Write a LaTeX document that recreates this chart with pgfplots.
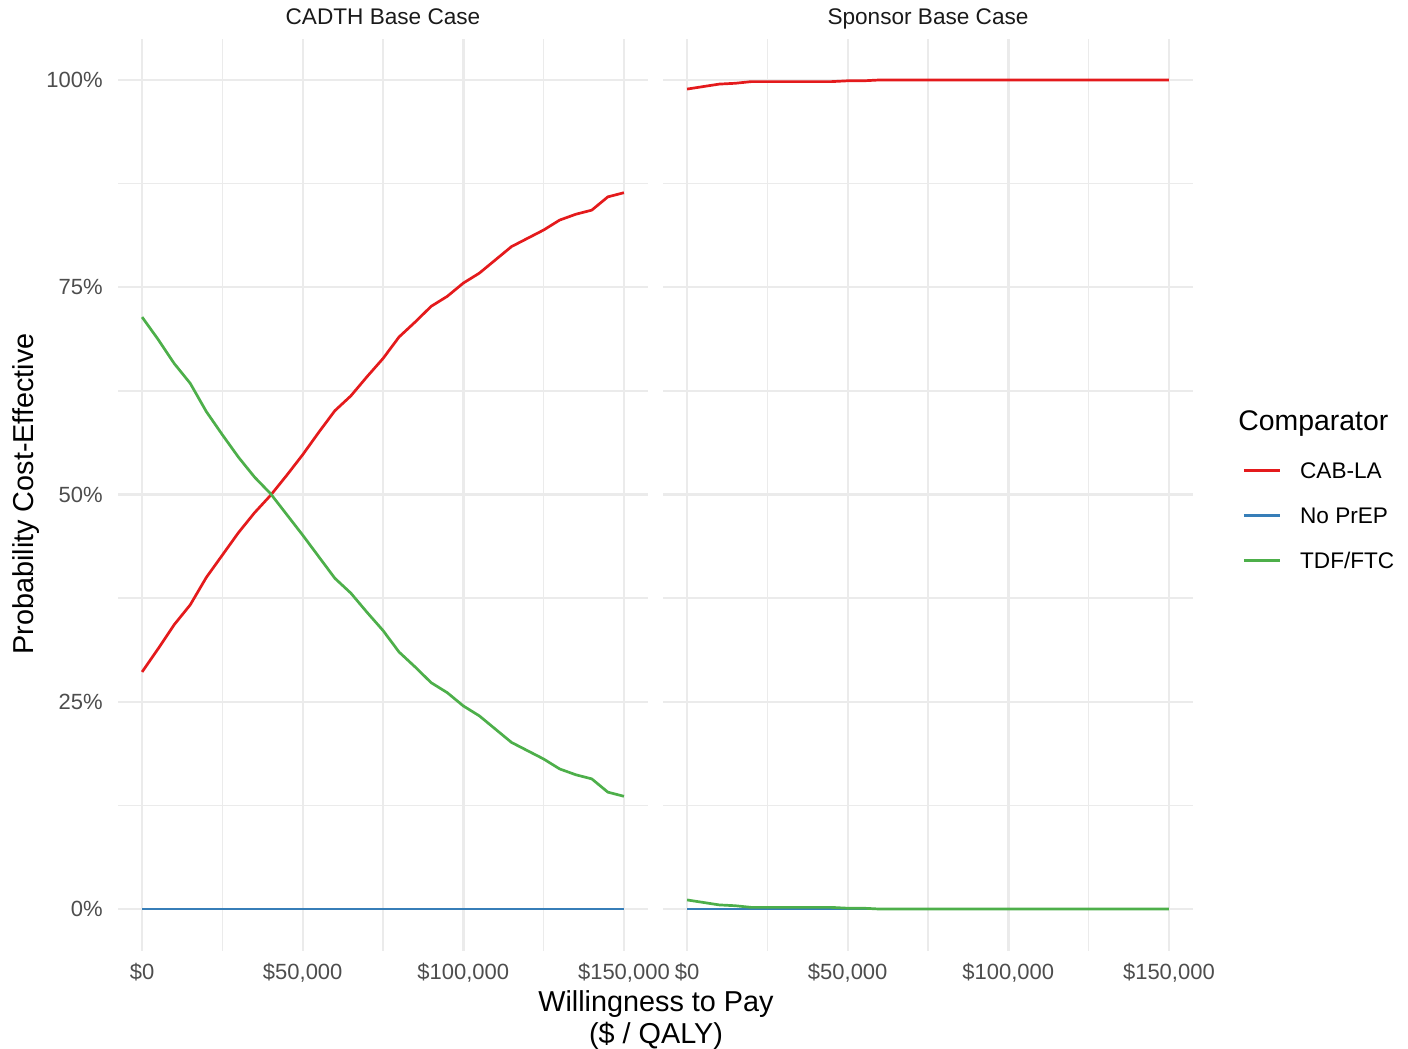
\documentclass[border=0pt]{standalone}
\usepackage{pgfplots}
\pgfplotsset{compat=1.18}
\usepackage{pgfplotstable}
\usepackage{fontspec}
\setmainfont{Liberation Sans}
\definecolor{cab}{HTML}{E41A1C}
\definecolor{noprep}{HTML}{377EB8}
\definecolor{tdf}{HTML}{4DAF4A}
\definecolor{gridc}{HTML}{EBEBEB}
\definecolor{tickc}{HTML}{4D4D4D}
\definecolor{stripc}{HTML}{1A1A1A}

\pgfplotstableread{
x cab noprep tdf
0 28.6 0 71.4
5000 31.4 0 68.7
10000 34.3 0 65.8
15000 36.7 0 63.4
20000 40.0 0 60.0
25000 42.7 0 57.2
30000 45.4 0 54.5
35000 47.8 0 52.1
40000 49.9 0 50.1
45000 52.3 0 47.6
50000 54.8 0 45.1
55000 57.5 0 42.5
60000 60.1 0 39.9
65000 61.9 0 38.1
70000 64.2 0 35.8
75000 66.4 0 33.6
80000 69.0 0 31.0
85000 70.8 0 29.2
90000 72.7 0 27.3
95000 73.9 0 26.1
100000 75.5 0 24.5
105000 76.7 0 23.3
110000 78.3 0 21.7
115000 79.9 0 20.1
120000 80.9 0 19.1
125000 81.9 0 18.1
130000 83.1 0 16.9
135000 83.8 0 16.2
140000 84.3 0 15.7
145000 85.9 0 14.1
150000 86.4 0 13.6
}\cadth

\pgfplotstableread{
x cab noprep tdf
0 98.9 0 1.1
5000 99.2 0 0.8
10000 99.5 0 0.5
15000 99.6 0 0.4
20000 99.8 0 0.2
25000 99.8 0 0.2
30000 99.8 0 0.2
35000 99.8 0 0.2
40000 99.8 0 0.2
45000 99.8 0 0.2
50000 99.9 0 0.1
55000 99.9 0 0.1
60000 100 0 0
65000 100 0 0
70000 100 0 0
75000 100 0 0
80000 100 0 0
85000 100 0 0
90000 100 0 0
95000 100 0 0
100000 100 0 0
105000 100 0 0
110000 100 0 0
115000 100 0 0
120000 100 0 0
125000 100 0 0
130000 100 0 0
135000 100 0 0
140000 100 0 0
145000 100 0 0
150000 100 0 0
}\sponsor

\pgfplotsset{
  facet/.style={
    scale only axis,
    width=265pt, height=456pt,
    xmin=-7500, xmax=157500,
    ymin=-5, ymax=105,
    axis line style={draw=none},
    major tick length=0pt, minor tick length=0pt,
    scaled x ticks=false,
    xtick={0,50000,100000,150000},
    xticklabels={{\$0},{\$50,000},{\$100,000},{\$150,000}},
    minor xtick={25000,75000,125000},
    ytick={0,25,50,75,100},
    minor ytick={12.5,37.5,62.5,87.5},
    grid=both,
    major grid style={color=gridc, line width=1.2pt},
    minor grid style={color=gridc, line width=0.7pt},
    tick label style={font=\fontsize{11}{13}\selectfont, text=tickc},
    xticklabel style={inner sep=0pt, anchor=north, yshift=-6.1pt},
    yticklabel style={inner sep=0pt, anchor=east, xshift=-7.5pt},
    every axis plot/.append style={line width=1.35pt, line join=round, no marks},
    clip=false,
  }
}

\begin{document}
\begin{tikzpicture}
\path[use as bounding box] (0,0) rectangle (704pt,-524.5pt);

\begin{axis}[facet, at={(59pt,-475.25pt)}, anchor=south west,
  yticklabels={{0\%},{25\%},{50\%},{75\%},{100\%}}]
\addplot[cab] table[x=x,y=cab]{\cadth};
\addplot[noprep] table[x=x,y=noprep]{\cadth};
\addplot[tdf] table[x=x,y=tdf]{\cadth};
\end{axis}

\begin{axis}[facet, at={(331.5pt,-475.25pt)}, anchor=south west,
  yticklabels={},
  legend style={draw=none, fill=none, at={(1.0925,0.5356)}, anchor=north west,
    inner sep=0pt, row sep=14.5pt, column sep=9.5pt,
    font=\fontsize{11.3}{13}\selectfont,
    nodes={inner sep=0pt, text height=8pt, text depth=0pt}},
  legend cell align=left,
  legend image code/.code={\draw[#1] (0pt,0pt) -- (18pt,0pt);}]
\addplot[cab] table[x=x,y=cab]{\sponsor};
\addlegendentry{CAB-LA}
\addplot[noprep] table[x=x,y=noprep]{\sponsor};
\addlegendentry{No PrEP}
\addplot[tdf] table[x=x,y=tdf]{\sponsor};
\addlegendentry{TDF/FTC}
\end{axis}

\node[font=\fontsize{11.3}{13}\selectfont, text=stripc, anchor=base] at (191.5pt,-12.5pt) {CADTH Base Case};
\node[font=\fontsize{11.3}{13}\selectfont, text=stripc, anchor=base] at (464pt,-12.5pt) {Sponsor Base Case};
\node[font=\fontsize{14.2}{17}\selectfont, anchor=west, inner sep=0pt] at (619pt,-212pt) {Comparator};
\node[font=\fontsize{14.4}{17}\selectfont, anchor=base] at (328pt,-505.7pt) {Willingness to Pay};
\node[font=\fontsize{14.4}{17}\selectfont, anchor=base] at (328pt,-521.6pt) {(\$ / QALY)};
\node[font=\fontsize{14.4}{17}\selectfont, rotate=90] at (13pt,-247pt) {Probability Cost-Effective};
\end{tikzpicture}
\end{document}
